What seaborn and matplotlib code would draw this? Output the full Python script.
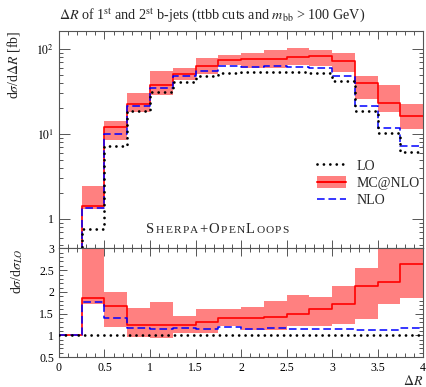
import numpy as np
import matplotlib
matplotlib.use("Agg")
import matplotlib.pyplot as plt
import seaborn as sns
from matplotlib.lines import Line2D
from matplotlib.patches import Patch
from matplotlib.offsetbox import TextArea, HPacker, AnchoredOffsetbox
from matplotlib.ticker import MultipleLocator, LogLocator, FixedLocator, FuncFormatter, NullFormatter

# ---- data (bins of Delta R, width 0.25) ----
edges = [0.0, 0.25, 0.5, 0.75, 1.0, 1.25, 1.5, 1.75, 2.0, 2.25, 2.5, 2.75, 3.0, 3.25, 3.5, 3.75, 4.0]
lo_xs = [0.0, 0.757, 7.16, 18.5, 30.9, 41.2, 48.5, 52.7, 54.0, 54.0, 53.2, 51.8, 42.0, 18.8, 10.4, 6.2]
nlo_xs = [0.0, 1.34, 9.95, 21.5, 35.2, 48.2, 55.3, 62.7, 61.6, 63.2, 60.6, 59.1, 47.9, 21.2, 11.75, 7.2]
mc_xs = [0.0, 1.41, 11.96, 22.8, 38.0, 50.7, 63.1, 73.3, 75.6, 77.2, 79.8, 83.4, 71.8, 40.2, 23.1, 16.4]
mc_low = [0.0, 1.31, 8.6, 17.9, 28.7, 43.3, 50.9, 64.3, 60.5, 60.5, 64.9, 63.2, 53.3, 26.0, 18.0, 11.5]
mc_high = [0.0, 2.44, 14.3, 30.2, 54.7, 59.3, 77.6, 84.8, 89.1, 97.2, 102.7, 97.4, 89.9, 47.8, 37.7, 22.5]
labels = ["LO", "MC@NLO", "NLO"]

edges = np.array(edges)
lo_a, nlo_a, mc_a = np.array(lo_xs), np.array(nlo_xs), np.array(mc_xs)
mlo_a, mhi_a = np.array(mc_low), np.array(mc_high)


def ratio(v):
    return np.where(lo_a > 0, v / np.where(lo_a > 0, lo_a, 1), 1.0)


def step(v):
    return np.append(v, v[-1])


sns.set_style("ticks")
plt.rcParams["font.family"] = ["Liberation Serif", "DejaVu Serif"]
plt.rcParams["mathtext.fontset"] = "stix"

RED = "#ff0000"
PINK = "#ff8080"
BLUE = "#0000ff"
BLACK = "#000000"
FRAME = "#555555"

fig = plt.figure(figsize=(4.27, 3.87), dpi=100)
ax = fig.add_axes([0.138, 0.358, 0.853, 0.562])
axr = fig.add_axes([0.138, 0.0775, 0.853, 0.2805])

dotted = (0, (0.01, 2.3))
dashed = (0, (5, 2.5))

# ---- main panel ----
ax.fill_between(edges, step(mlo_a), step(mhi_a), step="post", color=PINK, lw=0, zorder=1)
sns.lineplot(x=edges, y=step(mc_a), ax=ax, color=RED, lw=1.2, drawstyle="steps-post",
             estimator=None, sort=False, zorder=3)
sns.lineplot(x=edges, y=step(nlo_a), ax=ax, color=BLUE, lw=1.1, linestyle=dashed,
             drawstyle="steps-post", estimator=None, sort=False, zorder=4)
sns.lineplot(x=edges, y=step(lo_a), ax=ax, color=BLACK, lw=2.0, linestyle=dotted,
             dash_capstyle="round", drawstyle="steps-post", estimator=None, sort=False, zorder=5)
ax.set_yscale("log")
ax.set_xlim(0, 4)
ax.set_ylim(0.45, 163)

# ---- ratio panel ----
axr.fill_between(edges, step(ratio(mlo_a)), step(ratio(mhi_a)), step="post", color=PINK, lw=0, zorder=1)
sns.lineplot(x=edges, y=step(ratio(mc_a)), ax=axr, color=RED, lw=1.2, drawstyle="steps-post",
             estimator=None, sort=False, zorder=3)
sns.lineplot(x=edges, y=step(ratio(nlo_a)), ax=axr, color=BLUE, lw=1.1, linestyle=dashed,
             drawstyle="steps-post", estimator=None, sort=False, zorder=4)
sns.lineplot(x=edges, y=step(ratio(lo_a)), ax=axr, color=BLACK, lw=2.0, linestyle=dotted,
             dash_capstyle="round", drawstyle="steps-post", estimator=None, sort=False, zorder=5)
axr.set_xlim(0, 4)
axr.set_ylim(0.5, 3.0)

# ---- ticks / frames ----
for a in (ax, axr):
    a.tick_params(which="both", direction="in", top=True, right=True, colors=FRAME,
                  labelcolor="black", labelsize=8.5, width=0.7)
    a.tick_params(which="major", length=6)
    a.tick_params(which="minor", length=3)
    a.xaxis.set_major_locator(MultipleLocator(0.5))
    a.xaxis.set_minor_locator(MultipleLocator(0.1))
    for s in a.spines.values():
        s.set_color(FRAME)
        s.set_linewidth(0.8)
    a.set_xlabel("")
    a.set_ylabel("")

ax.tick_params(axis="y", which="major", length=8)
ax.yaxis.set_major_locator(FixedLocator([1, 10, 100]))
ax.yaxis.set_minor_locator(LogLocator(base=10, subs=np.arange(2, 10)))
ax.yaxis.set_minor_formatter(NullFormatter())
ax.yaxis.set_major_formatter(FuncFormatter(lambda v, p: {1: "1", 10: r"$10^{1}$", 100: r"$10^{2}$"}.get(int(round(v)), "")))
ax.tick_params(axis="x", labelbottom=False)

axr.yaxis.set_major_locator(MultipleLocator(0.5))
axr.yaxis.set_minor_locator(MultipleLocator(0.1))
axr.yaxis.set_major_formatter(FuncFormatter(lambda v, p: f"{v:g}"))
axr.xaxis.set_major_formatter(FuncFormatter(lambda v, p: f"{v:g}"))

# ---- labels ----
ax.set_ylabel(r"d$\sigma$/d$\Delta R$ [fb]", loc="top", fontsize=10, labelpad=10)
axr.set_ylabel(r"d$\sigma$/d$\sigma_{LO}$", loc="top", fontsize=10, labelpad=10)
axr.set_xlabel(r"$\Delta R$", loc="right", fontsize=10, labelpad=0)
fig.text(0.138, 0.961,
         r"$\Delta R$ of 1$^{\rm st}$ and 2$^{\rm st}$ b-jets (ttbb cuts and $m_{\rm bb}$ > 100 GeV)",
         ha="left", va="center", fontsize=10.2)

# ---- legend ----
handles = [
    Line2D([], [], color=BLACK, lw=2.0, linestyle=dotted, dash_capstyle="round"),
    (Patch(facecolor=PINK, edgecolor="none"), Line2D([], [], color=RED, lw=1.4)),
    Line2D([], [], color=BLUE, lw=1.1, linestyle=dashed),
]
ax.legend(handles, labels, loc="center left", bbox_to_anchor=(0.69, 0.30), frameon=False,
          fontsize=10, handlelength=2.1, handleheight=0.9, handletextpad=0.7,
          labelspacing=0.28, borderpad=0)

# ---- Sherpa+OpenLoops in small caps ----
big, small = 10.5, 8.2
parts = [("S", big), ("HERPA", small), ("+", big), ("O", big), ("PEN", small), ("L", big), ("OOPS", small)]
boxes = []
for t, s in parts:
    for ch in t:
        boxes.append(TextArea(ch, textprops=dict(fontsize=s, family=["Liberation Serif", "DejaVu Serif"])))
pack = HPacker(children=boxes, align="baseline", pad=0, sep=0.9)
anch = AnchoredOffsetbox(loc="lower left", child=pack, pad=0, frameon=False,
                         bbox_to_anchor=(0.24, 0.058), bbox_transform=ax.transAxes, borderpad=0)
ax.add_artist(anch)

fig.savefig("out.png", dpi=100)
